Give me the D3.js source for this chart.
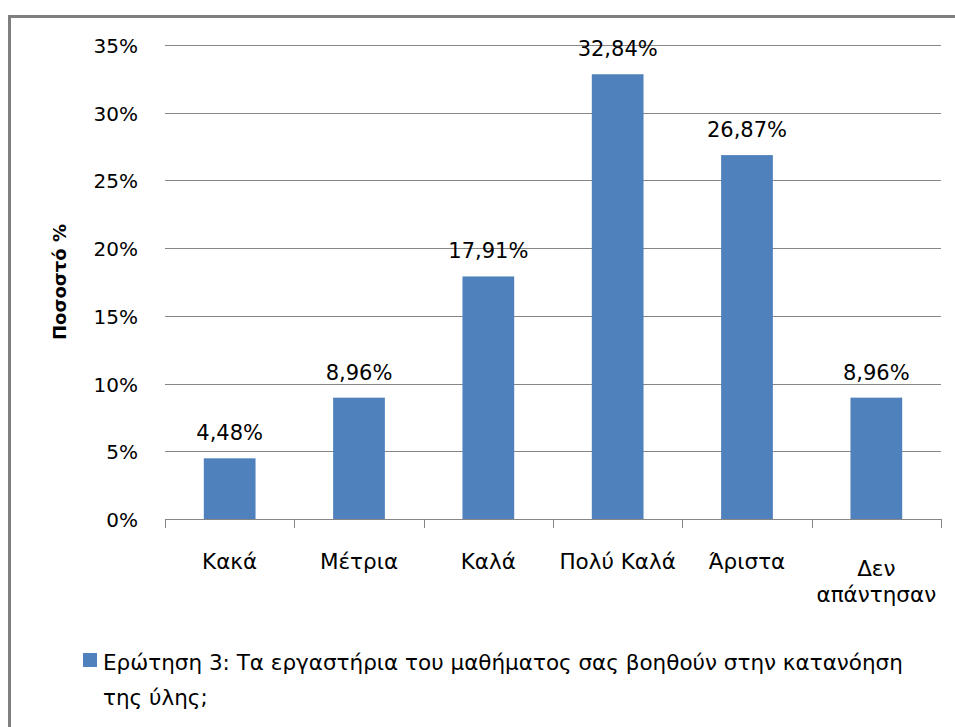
<!DOCTYPE html>
<html>
<head>
<meta charset="utf-8">
<script src="https://cdn.jsdelivr.net/npm/d3@7"></script>
<style>
body { margin: 0; background: #fff; }
text { font-family: "DejaVu Sans", sans-serif; fill: #000; }
</style>
</head>
<body>
<script>
// data
const categories = ["Κακά", "Μέτρια", "Καλά", "Πολύ Καλά", "Άριστα", "Δεν απάντησαν"]
const values = [4.48, 8.96, 17.91, 32.84, 26.87, 8.96]
const yTicks = [0, 5, 10, 15, 20, 25, 30, 35]
const seriesName = ["Ερώτηση 3: Τα εργαστήρια του μαθήματος σας βοηθούν στην κατανόηση", "της ύλης;"]

let w = 955
let h = 727
let svg = d3.select("body").append("svg")
    .attr("width", w)
    .attr("height", h)

// chart frame (only top and left visible)
svg.append("path")
    .attr("d", "M9.5," + h + " V16.5 H" + w)
    .attr("fill", "none")
    .attr("stroke", "#7f7f7f")
    .attr("stroke-width", 3)

let pLeft = 165, pRight = 941, pTop = 45, pBottom = 519

let x = d3.scaleBand()
    .domain(categories)
    .range([pLeft, pRight])
    .paddingInner(0.6)
    .paddingOuter(0.3)
let xEdges = d3.scaleLinear().domain([0, categories.length]).range([pLeft, pRight])
let y = d3.scaleLinear()
    .domain([0, 35])
    .range([pBottom, pTop])

// gridlines
svg.append("g")
    .selectAll("line")
    .data(yTicks.slice(1))
    .enter()
    .append("line")
    .attr("x1", pLeft)
    .attr("x2", pRight)
    .attr("y1", d => Math.round(y(d)) + 0.5)
    .attr("y2", d => Math.round(y(d)) + 0.5)
    .attr("stroke", "#868686")
    .attr("stroke-width", 1)

// y labels
svg.append("g")
    .selectAll("text")
    .data(yTicks)
    .enter()
    .append("text")
    .attr("x", 138)
    .attr("y", d => y(d) + 8)
    .attr("text-anchor", "end")
    .style("font-size", "20px")
    .text(d => d + "%")

// bars
svg.append("g")
    .selectAll("rect")
    .data(values)
    .enter()
    .append("rect")
    .attr("x", (d, i) => x(categories[i]))
    .attr("y", d => y(d))
    .attr("width", x.bandwidth())
    .attr("height", d => pBottom - y(d))
    .attr("fill", "#4f81bd")

// value labels
svg.append("g")
    .selectAll("text")
    .data(values)
    .enter()
    .append("text")
    .attr("x", (d, i) => x(categories[i]) + x.bandwidth() / 2)
    .attr("y", d => y(d) - 18)
    .attr("text-anchor", "middle")
    .style("font-size", "21px")
    .text(d => d.toFixed(2).replace(".", ",") + "%")

// x axis line and ticks
let ax = svg.append("g").attr("stroke", "#868686").attr("fill", "none")
ax.append("line")
    .attr("x1", pLeft).attr("x2", pRight)
    .attr("y1", pBottom + 0.5).attr("y2", pBottom + 0.5)
ax.selectAll("line.t")
    .data(d3.range(categories.length + 1))
    .enter()
    .append("line")
    .attr("class", "t")
    .attr("x1", d => Math.round(xEdges(d)) + 0.5)
    .attr("x2", d => Math.round(xEdges(d)) + 0.5)
    .attr("y1", pBottom)
    .attr("y2", pBottom + 9)

// category labels
svg.append("g")
    .selectAll("text")
    .data(categories)
    .enter()
    .append("text")
    .attr("text-anchor", "middle")
    .style("font-size", "21.5px")
    .each(function(d) {
        let t = d3.select(this)
        let parts = d === "Δεν απάντησαν" ? ["Δεν", "απάντησαν"] : [d]
        parts.forEach((p, j) => {
            t.append("tspan")
                .attr("x", x(d) + x.bandwidth() / 2)
                .attr("y", (parts.length > 1 ? 576 : 569) + j * 26)
                .text(p)
        })
    })

// y axis title
svg.append("text")
    .attr("transform", "translate(66," + ((pTop + pBottom) / 2) + ") rotate(-90)")
    .attr("text-anchor", "middle")
    .style("font-size", "18px")
    .style("font-weight", "bold")
    .text("Ποσοστό %")

// legend
svg.append("rect")
    .attr("x", 83).attr("y", 653)
    .attr("width", 14).attr("height", 14)
    .attr("fill", "#4f81bd")
seriesName.forEach((s, i) => {
    svg.append("text")
        .attr("x", 103)
        .attr("y", 670 + i * 35)
        .style("font-size", "21.5px")
        .text(s)
})
</script>
</body>
</html>
